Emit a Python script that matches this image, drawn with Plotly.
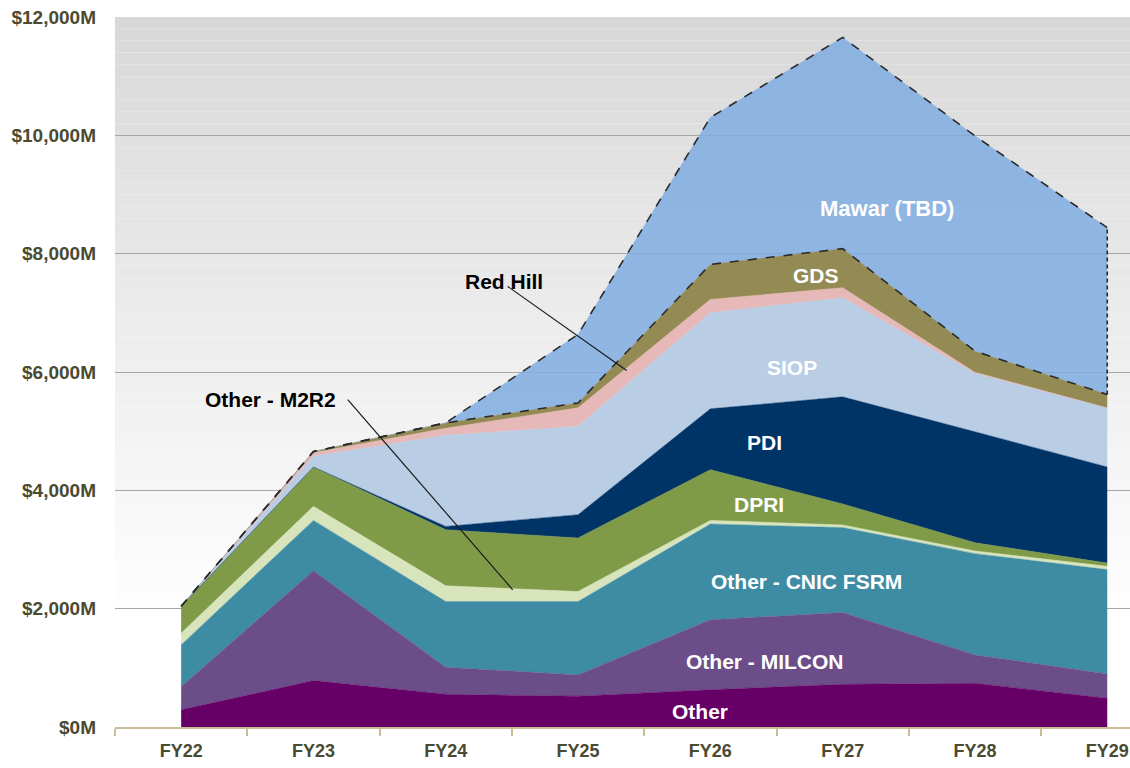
import numpy as np
import plotly.graph_objects as go

years = ["FY22", "FY23", "FY24", "FY25", "FY26", "FY27", "FY28", "FY29"]
other = [290, 784, 553, 520, 630, 722, 739, 486]
other_milcon = [392, 1856, 457, 360, 1181, 1213, 480, 411]
other_cnic_fsrm = [706, 852, 1111, 1241, 1619, 1435, 1711, 1763]
other_m2r2 = [198, 237, 265, 169, 62, 45, 45, 55]
dpri = [454, 666, 948, 904, 858, 355, 140, 55]
pdi = [0, 0, 56, 394, 1027, 1810, 1875, 1625]
siop = [0, 180, 1540, 1495, 1625, 1676, 985, 999]
red_hill = [0, 60, 120, 311, 225, 169, 20, 0]
gds = [0, 20, 90, 83, 592, 660, 357, 225]
mawar = [0, 0, 0, 1158, 2482, 3570, 3638, 2821]

y_ticks = [0, 2000, 4000, 6000, 8000, 10000, 12000]
y_tick_labels = ["$0M", "$2,000M", "$4,000M", "$6,000M", "$8,000M", "$10,000M", "$12,000M"]

series = [
    ("Other", other, "#660066"),
    ("Other - MILCON", other_milcon, "#6b4e89"),
    ("Other - CNIC FSRM", other_cnic_fsrm, "#3e8ba4"),
    ("Other - M2R2", other_m2r2, "#d8e4bc"),
    ("DPRI", dpri, "#7f9b48"),
    ("PDI", pdi, "#003366"),
    ("SIOP", siop, "#b9cde5"),
    ("Red Hill", red_hill, "#e6b9b8"),
    ("GDS", gds, "#948a54"),
    ("Mawar (TBD)", mawar, "rgba(128,172,226,0.86)"),
]

FONT = "Liberation Sans, Arial, sans-serif"
fig = go.Figure()

for name, vals, col in series:
    fig.add_trace(go.Scatter(
        x=years, y=vals, name=name, mode="lines", stackgroup="one",
        fillcolor=col, line=dict(color=col, width=0.5), hoverinfo="skip",
    ))

gds_top = np.cumsum([other, other_milcon, other_cnic_fsrm, other_m2r2, dpri,
                     pdi, siop, red_hill, gds], axis=0)[-1]
total = gds_top + np.array(mawar)
dash_line = dict(color="#2b2b2b", width=1.6, dash="dash")
fig.add_trace(go.Scatter(x=years, y=gds_top, mode="lines", line=dash_line,
                         hoverinfo="skip", showlegend=False))
fig.add_trace(go.Scatter(x=years, y=total, mode="lines", line=dash_line,
                         hoverinfo="skip", showlegend=False))
fig.add_trace(go.Scatter(x=[years[-1], years[-1]], y=[gds_top[-1], total[-1]],
                         mode="lines", line=dict(color="#2b2b2b", width=1.6, dash="4px,3px"),
                         hoverinfo="skip", showlegend=False))

# gradient background (plot area)
shapes = []
n = 60
for i in range(n):
    y0 = 1 - i / n
    y1 = 1 - (i + 1) / n
    t = min(1.0, (i + 0.5) / (n * 0.85))
    g = int(round(216 + (255 - 216) * t))
    shapes.append(dict(type="rect", xref="paper", yref="paper", x0=0, x1=1,
                       y0=y1, y1=y0, fillcolor=f"rgb({g},{g},{g})",
                       line=dict(width=0), layer="below"))

# leader lines
shapes.append(dict(type="line", xref="x", yref="y", x0=2.468, y0=7447, x1=3.367, y1=6025,
                   line=dict(color="#1a1a1a", width=1.2)))
shapes.append(dict(type="line", xref="x", yref="y", x0=1.259, y0=5534, x1=2.506, y1=2319,
                   line=dict(color="#1a1a1a", width=1.2)))

labels = [
    ("Mawar (TBD)", 5.333, 8767, "white", 22),
    ("GDS", 4.796, 7633, "white", 21),
    ("SIOP", 4.615, 6076, "white", 21),
    ("PDI", 4.410, 4807, "white", 21),
    ("DPRI", 4.365, 3757, "white", 21),
    ("Other - CNIC FSRM", 4.728, 2454, "white", 21),
    ("Other - MILCON", 4.410, 1100, "white", 21),
    ("Other", 3.919, 254, "white", 21),
    ("Red Hill", 2.438, 7532, "black", 21),
    ("Other - M2R2", 0.676, 5534, "black", 21),
]
annotations = [
    dict(text=t, x=x, y=y, xref="x", yref="y", showarrow=False,
         font=dict(family=FONT, size=s, color=c, weight="bold"),
         xanchor="center", yanchor="middle")
    for t, x, y, c, s in labels
]

tick_font = dict(family=FONT, size=18, color="#4a4a30", weight="bold")
ytick_font = dict(family=FONT, size=19, color="#4a4a30", weight="bold")
fig.update_layout(
    width=1130, height=768,
    margin=dict(l=115, r=0, t=17, b=41, autoexpand=False),
    paper_bgcolor="white", plot_bgcolor="white",
    showlegend=False, hovermode=False,
    shapes=shapes, annotations=annotations,
    xaxis=dict(type="category", range=[-0.5, 7.172], showgrid=False, automargin=False,
               tickson="boundaries", ticks="outside", ticklen=7, tickwidth=2,
               tickcolor="#c8bd96", showline=True, linecolor="#c8bd96", linewidth=2,
               tickfont=tick_font, ticklabelstandoff=6, zeroline=False),
    yaxis=dict(range=[0, 12000], tickvals=y_ticks, ticktext=y_tick_labels,
               automargin=False, showgrid=True, gridcolor="#a6a6a6",
               gridwidth=1, zeroline=False, showline=False, ticks="",
               tickfont=ytick_font, ticklabelstandoff=18),
)

fig.write_html(
    "out.html",
    config={"displayModeBar": False},
    post_script="document.body.style.margin='0';document.body.style.overflow='hidden';",
)
